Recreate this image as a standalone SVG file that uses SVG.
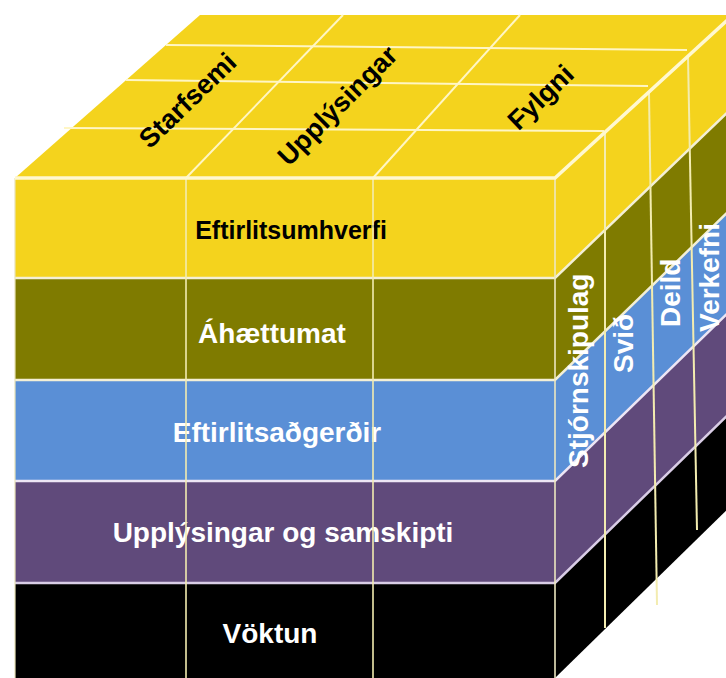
<svg xmlns="http://www.w3.org/2000/svg" width="726" height="678" viewBox="0 0 726 678">
<style>
.y{fill:#F4D31D}.o{fill:#7F7B00}.b{fill:#5A8FD6}.p{fill:#604A7B}.k{fill:#000}
.grid{stroke:#FFF6C4;stroke-width:2;fill:none}
.sep{stroke:#F3EFD6;stroke-width:2.5;fill:none}
.vl{stroke:#F3ECB0;stroke-width:1.6;fill:none}
.t{font-family:"Liberation Sans",Arial,sans-serif;font-weight:bold}
.w{fill:#fff;font-size:28px}
</style>
<rect width="726" height="678" fill="#fff"/>
<g id="top-face">
<polygon class="y" points="15,178 555,178 733,15 200,15"/>
<line class="grid" x1="64" y1="128" x2="604" y2="131"/>
<line class="grid" x1="126" y1="80" x2="648" y2="86"/>
<line class="grid" x1="166" y1="45" x2="687" y2="50"/>
<line class="grid" x1="186" y1="178" x2="343" y2="15"/>
<line class="grid" x1="373" y1="178" x2="520" y2="15"/>
<text class="t" font-size="27" text-anchor="middle" transform="translate(194,107) rotate(-44)">Starfsemi</text>
<text class="t" font-size="27" text-anchor="middle" transform="translate(344,112) rotate(-45)">Upplýsingar</text>
<text class="t" font-size="27" text-anchor="middle" transform="translate(547,104) rotate(-44)">Fylgni</text>
</g>
<g id="side-face">
<polygon class="y" points="555,178 733,15 733,107 555,278"/>
<polygon class="o" points="555,278 733,107 733,207 555,380"/>
<polygon class="b" points="555,380 733,207 733,308 555,481"/>
<polygon class="p" points="555,481 733,308 733,410 555,583"/>
<polygon class="k" points="555,583 733,410 733,504 555,678"/>
</g>
<g id="front-face">
<rect class="y" x="15" y="178" width="540" height="100"/>
<rect class="o" x="15" y="278" width="540" height="102"/>
<rect class="b" x="15" y="380" width="540" height="101"/>
<rect class="p" x="15" y="481" width="540" height="102"/>
<rect class="k" x="15" y="583" width="540" height="95"/>
</g>
<g id="labels-front">
<text class="t" x="291" y="239" font-size="25" text-anchor="middle" fill="#000">Eftirlitsumhverfi</text>
<text class="t w" x="272" y="343" text-anchor="middle">Áhættumat</text>
<text class="t w" x="277" y="442" text-anchor="middle">Eftirlitsaðgerðir</text>
<text class="t w" x="283" y="542" text-anchor="middle">Upplýsingar og samskipti</text>
<text class="t w" x="270" y="643" text-anchor="middle">Vöktun</text>
</g>
<g id="lines">
<polyline class="sep" points="15,278 555,278 733,107"/>
<polyline class="sep" points="15,380 555,380 733,207"/>
<polyline class="sep" points="15,481 555,481 733,308" style="stroke:#EDE6F5"/>
<polyline class="sep" points="15,583 555,583 733,410" style="stroke:#D9CDE6"/>
<line class="vl" x1="186" y1="178" x2="186" y2="678"/>
<line class="vl" x1="373" y1="178" x2="373" y2="678"/>
<line class="vl" x1="555" y1="178" x2="555" y2="678" style="stroke:#EDE7C0"/>
<line class="vl" x1="15" y1="178" x2="15" y2="678" style="stroke:#E8E2B8;stroke-width:1.2"/>
<line class="vl" x1="605" y1="132" x2="605" y2="628" style="stroke-width:2"/>
<line class="vl" x1="649" y1="93" x2="657" y2="605" style="stroke-width:2"/>
<line class="vl" x1="688" y1="56" x2="697" y2="530" style="stroke-width:2"/>
<polyline points="15,178 555,178 733,15" fill="none" stroke="#FFF8D0" stroke-width="3.5"/>
</g>
<g id="labels-side">
<text class="t w" transform="translate(588,468) rotate(-90)">Stjórnskipulag</text>
<text class="t w" transform="translate(633,373) rotate(-90)">Svið</text>
<text class="t w" transform="translate(680,327) rotate(-90)">Deild</text>
<text class="t w" transform="translate(719,332) rotate(-90)">Verkefni</text>
</g>
</svg>
